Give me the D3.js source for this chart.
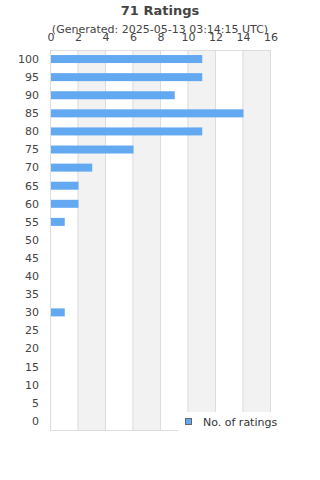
<!DOCTYPE html>
<html><head><meta charset="utf-8">
<script src="https://cdn.jsdelivr.net/npm/d3@7"></script>
<style>body{margin:0;background:#fff}svg{display:block;font-family:"DejaVu Sans",sans-serif}</style>
</head><body>
<svg id="c" width="320" height="480"></svg>
<script>
const title = "71 Ratings";
const subtitle = "(Generated: 2025-05-13 03:14:15 UTC)";
const categories = ["100","95","90","85","80","75","70","65","60","55","50","45","40","35","30","25","20","15","10","5","0"];
const counts = [11,11,9,14,11,6,3,2,2,1,0,0,0,0,1,0,0,0,0,0,0];
const xTicks = [0,2,4,6,8,10,12,14,16];
const seriesName = "No. of ratings";

const svg = d3.select("#c");
const L = 50, R = 270, T = 50, B = 430;
const x = d3.scaleLinear().domain([0,16]).range([L,R]);
const y = d3.scaleBand().domain(categories).range([T,B]);

// alternating bands
const bands = d3.range(0, xTicks.length-1).filter(i => i % 2 === 1);
svg.append("g").selectAll("rect").data(bands).join("rect")
  .attr("x", i => x(xTicks[i])).attr("y", T)
  .attr("width", i => x(xTicks[i+1]) - x(xTicks[i])).attr("height", B - T)
  .attr("fill", "#f2f2f2");

// grid lines
svg.append("g").selectAll("line").data(xTicks).join("line")
  .attr("x1", d => x(d)+0.5).attr("x2", d => x(d)+0.5)
  .attr("y1", T).attr("y2", B)
  .attr("stroke", "#dddddd");
svg.append("line").attr("x1", L).attr("x2", R+1).attr("y1", T+0.5).attr("y2", T+0.5).attr("stroke","#dddddd");
svg.append("line").attr("x1", L).attr("x2", R+1).attr("y1", B+0.5).attr("y2", B+0.5).attr("stroke","#dddddd");

// bars
const bh = 8;
svg.append("g").selectAll("rect").data(categories.map((c,i)=>({c, v:counts[i]})).filter(d=>d.v>0)).join("rect")
  .attr("x", x(0)+1).attr("y", d => y(d.c) + y.bandwidth()/2 - bh/2)
  .attr("width", d => x(d.v) - x(0)).attr("height", bh)
  .attr("fill", "#63a9f1");

// axes
const xa = svg.append("g").attr("transform", `translate(0.5,${T-9})`)
  .call(d3.axisTop(x).tickValues(xTicks).tickSize(0).tickPadding(0));
xa.select(".domain").remove();
xa.selectAll("text").attr("font-size", 11).attr("fill", "#444").attr("font-family","DejaVu Sans, sans-serif").attr("dy", 0);

const ya = svg.append("g").attr("transform", `translate(${L-11},0)`)
  .call(d3.axisLeft(y).tickSize(0).tickPadding(0));
ya.select(".domain").remove();
ya.selectAll("text").attr("font-size", 11).attr("fill", "#444").attr("font-family","DejaVu Sans, sans-serif").attr("dy","0.35em");

// titles
svg.append("text").attr("x", 160).attr("y", 15).attr("text-anchor","middle")
  .attr("font-size", 13).attr("font-weight","bold").attr("fill","#444").text(title);
svg.append("text").attr("x", 160).attr("y", 33).attr("text-anchor","middle")
  .attr("font-size", 11).attr("fill","#444").text(subtitle);

// legend
const lg = svg.append("g");
lg.append("rect").attr("x", 178).attr("y", 412).attr("width", 110).attr("height", 20).attr("fill","#fff");
lg.append("rect").attr("x", 185.5).attr("y", 418.5).attr("width", 6).attr("height", 6)
  .attr("fill","#63a9f1").attr("stroke","#666").attr("stroke-width",1);
lg.append("text").attr("x", 203).attr("y", 426).attr("font-size", 11).attr("fill","#333").text(seriesName);
</script>
</body></html>
